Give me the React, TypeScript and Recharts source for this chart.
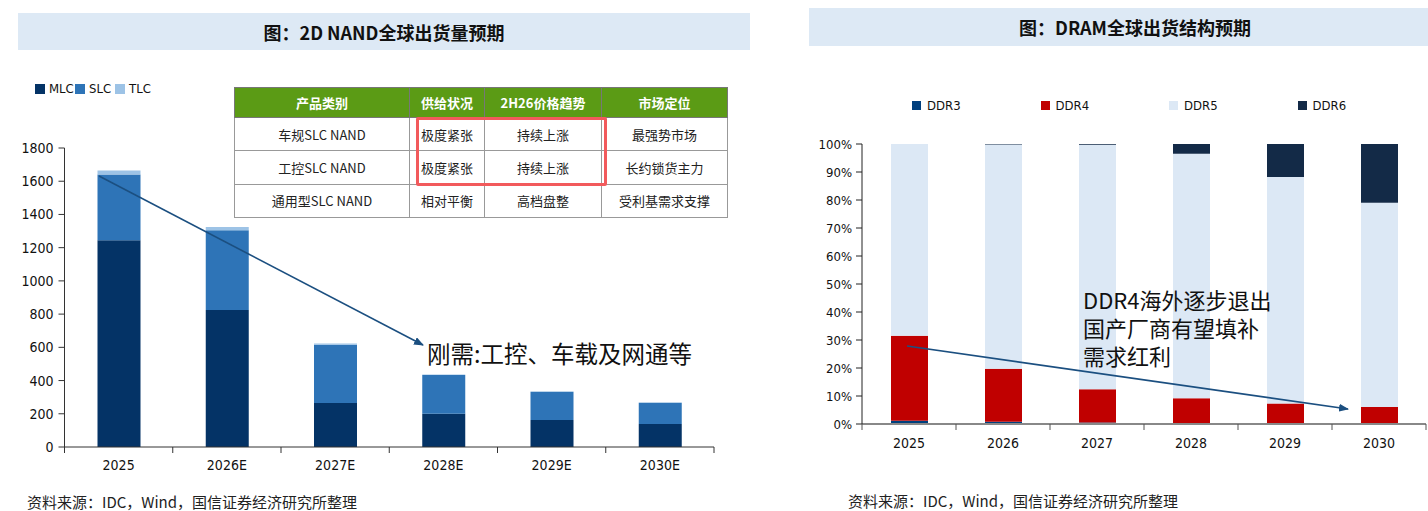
import { BarChart, Bar, XAxis, YAxis } from "recharts"

// 2D NAND shipments (left)
const nandYears = ["2025", "2026E", "2027E", "2028E", "2029E", "2030E"]
const mlc = [1245, 825, 265, 200, 162, 138]
const slc = [395, 480, 350, 234, 170, 128]
const tlc = [25, 20, 8, 3, 2, 2]
const nandTicks = [0, 200, 400, 600, 800, 1000, 1200, 1400, 1600, 1800]

// DRAM mix (right), percent
const dramYears = ["2025", "2026", "2027", "2028", "2029", "2030"]
const ddr3 = [1.2, 0.8, 0.5, 0.3, 0.1, 0]
const ddr4 = [30.3, 18.9, 11.9, 8.9, 7.2, 6.1]
const ddr5 = [68.5, 80.1, 87.3, 87.3, 80.9, 72.9]
const ddr6 = [0, 0.2, 0.3, 3.5, 11.8, 21]
const pctTicks = [0, 0.1, 0.2, 0.3, 0.4, 0.5, 0.6, 0.7, 0.8, 0.9, 1]

const tableHead = ["产品类别", "供给状况", "2H26价格趋势", "市场定位"]
const tableRows = [
    ["车规SLC NAND", "极度紧张", "持续上涨", "最强势市场"],
    ["工控SLC NAND", "极度紧张", "持续上涨", "长约锁货主力"],
    ["通用型SLC NAND", "相对平衡", "高档盘整", "受利基需求支撑"],
]

const nandSeries = [
    { key: "MLC", values: mlc, color: "#043366" },
    { key: "SLC", values: slc, color: "#2e74b7" },
    { key: "TLC", values: tlc, color: "#9dc3e6" },
]
const dramSeries = [
    { key: "DDR3", values: ddr3, color: "#003f7d" },
    { key: "DDR4", values: ddr4, color: "#c00000" },
    { key: "DDR5", values: ddr5, color: "#dce8f5" },
    { key: "DDR6", values: ddr6, color: "#132a47" },
]

const nandData = nandYears.map((year, i) => {
    const row: any = { year }
    nandSeries.forEach(s => { row[s.key] = s.values[i] })
    return row
})
const dramData = dramYears.map((year, i) => {
    const row: any = { year }
    dramSeries.forEach(s => { row[s.key] = s.values[i] })
    return row
})

const NARROW = '"Liberation Sans Narrow", "DejaVu Sans Condensed", "Arial Narrow", sans-serif'
const CJK = '"Noto Sans CJK SC", "Noto Sans", sans-serif'

// x axis tick with marks on the category borders
function BandTick(props: any) {
    const { x, y, payload, band, cats, margin, stroke, fontSize } = props
    const idx = cats.indexOf(payload.value)
    const axisY = y - margin
    const half = band / 2
    return (
        <g>
            <line x1={x - half} x2={x - half} y1={axisY} y2={axisY + 6} stroke={stroke} />
            {idx === cats.length - 1 && (
                <line x1={x + half} x2={x + half} y1={axisY} y2={axisY + 6} stroke={stroke} />
            )}
            <text x={x} y={y} dy="0.71em" textAnchor="middle" fill="#111"
                style={{ fontFamily: NARROW, fontSize }}>
                {payload.value}
            </text>
        </g>
    )
}

const L = { w: 760, h: 511, top: 148, right: 46, bottom: 34, left: 0, yw: 64.5 }
const R = { w: 628, h: 511, top: 144, right: 2, bottom: 57, left: 0, yw: 62 }
const lBand = (L.w - L.left - L.right - L.yw) / nandYears.length
const rBand = (R.w - R.left - R.right - R.yw) / dramYears.length

export default function App() {

    return (

        <div style={{ position: "absolute", left: 0, top: 0, width: 1428, height: 511, overflow: "hidden", background: "#fff" }}>

            {/* titles */}
            <div style={{
                position: "absolute", left: 18, top: 13, width: 732, height: 37, background: "#dde9f5",
                display: "flex", alignItems: "center", justifyContent: "center",
                fontFamily: CJK, fontWeight: 700, fontSize: 18, color: "#111",
            }}>
                图：2D NAND全球出货量预期
            </div>
            <div style={{
                position: "absolute", left: 809, top: 8, width: 652, height: 38, background: "#dde9f5",
                display: "flex", alignItems: "center", justifyContent: "center",
                fontFamily: CJK, fontWeight: 700, fontSize: 18, color: "#111",
            }}>
                图：DRAM全球出货结构预期
            </div>

            {/* left chart */}
            <div style={{ position: "absolute", left: 0, top: 0 }}>
                <BarChart width={L.w} height={L.h} data={nandData}
                    margin={{ top: L.top, right: L.right, bottom: L.bottom, left: L.left }}>
                    <XAxis dataKey="year" height={30} stroke="#333" tickLine={false} tickSize={0} tickMargin={13}
                        interval={0}
                        tick={(p: any) => <BandTick {...p} band={lBand} cats={nandYears} margin={13} stroke="#333" fontSize={14} />} />
                    <YAxis width={L.yw} domain={[0, 1800]} ticks={nandTicks} stroke="#333" tickSize={6} tickMargin={5}
                        tick={{ fill: "#111", fontFamily: NARROW, fontSize: 14 }} />
                    {nandSeries.map(s => (
                        <Bar key={s.key} dataKey={s.key} stackId="a" fill={s.color} barSize={43} isAnimationActive={false} />
                    ))}
                </BarChart>
            </div>

            {/* left legend */}
            {nandSeries.map((s, i) => (
                <div key={s.key} style={{ position: "absolute", left: 35 + i * 40, top: 81, display: "flex", alignItems: "center" }}>
                    <div style={{ width: 10, height: 10, background: s.color, marginRight: 4 }} />
                    <span style={{ fontFamily: NARROW, fontSize: 13, color: "#111" }}>{s.key}</span>
                </div>
            ))}

            {/* table */}
            <table style={{
                position: "absolute", left: 234, top: 87, width: 493, height: 131, borderCollapse: "collapse",
                background: "#fff", fontFamily: CJK, fontSize: 13, color: "#222", tableLayout: "fixed",
            }}>
                <colgroup>
                    <col style={{ width: 175 }} />
                    <col style={{ width: 75 }} />
                    <col style={{ width: 117 }} />
                    <col style={{ width: 126 }} />
                </colgroup>
                <thead>
                    <tr style={{ height: 30 }}>
                        {tableHead.map(h => (
                            <th key={h} style={{ background: "#5b9b15", color: "#fff", fontWeight: 700, border: "1px solid #777", padding: 0 }}>{h}</th>
                        ))}
                    </tr>
                </thead>
                <tbody>
                    {tableRows.map((r, i) => (
                        <tr key={i} style={{ height: 33 }}>
                            {r.map((c, j) => (
                                <td key={j} style={{ textAlign: "center", border: "1px solid #999", padding: 0 }}>{c}</td>
                            ))}
                        </tr>
                    ))}
                </tbody>
            </table>
            <div style={{
                position: "absolute", left: 416, top: 117, width: 185, height: 63,
                border: "3px solid #f25a5c", borderRadius: 2,
            }} />

            {/* right chart */}
            <div style={{ position: "absolute", left: 800, top: 0 }}>
                <BarChart width={R.w} height={R.h} data={dramData} stackOffset="expand"
                    margin={{ top: R.top, right: R.right, bottom: R.bottom, left: R.left }}>
                    <XAxis dataKey="year" height={30} stroke="#888" strokeWidth={2} tickLine={false} tickSize={0} tickMargin={14}
                        interval={0}
                        tick={(p: any) => <BandTick {...p} band={rBand} cats={dramYears} margin={14} stroke="#555" fontSize={14} />} />
                    <YAxis width={R.yw} domain={[0, 1]} ticks={pctTicks} stroke="#222" tickSize={6} tickMargin={4}
                        tickFormatter={(v: number) => `${Math.round(v * 100)}%`}
                        tick={{ fill: "#111", fontFamily: NARROW, fontSize: 13 }} />
                    {dramSeries.map(s => (
                        <Bar key={s.key} dataKey={s.key} stackId="a" fill={s.color} barSize={37} isAnimationActive={false} />
                    ))}
                </BarChart>
            </div>

            {/* right legend */}
            {dramSeries.map((s, i) => (
                <div key={s.key} style={{ position: "absolute", left: 912 + i * 128.5, top: 98, display: "flex", alignItems: "center" }}>
                    <div style={{ width: 9, height: 9, background: s.color, marginRight: 6 }} />
                    <span style={{ fontFamily: NARROW, fontSize: 13, color: "#111" }}>{s.key}</span>
                </div>
            ))}

            {/* arrows */}
            <svg width={1428} height={511} style={{ position: "absolute", left: 0, top: 0, pointerEvents: "none" }}>
                <defs>
                    <marker id="ah" markerWidth="10" markerHeight="8" refX="9" refY="4" orient="auto" markerUnits="userSpaceOnUse">
                        <path d="M0,0 L10,4 L0,8 Z" fill="#1b4f80" />
                    </marker>
                </defs>
                <line x1={99} y1={176} x2={423} y2={345} stroke="#1b4f80" strokeWidth={1.6} markerEnd="url(#ah)" />
                <line x1={907} y1={346} x2={1348} y2={409} stroke="#1b4f80" strokeWidth={1.6} markerEnd="url(#ah)" />
            </svg>

            {/* annotations */}
            <div style={{ position: "absolute", left: 427, top: 339, fontFamily: CJK, fontSize: 23.5, lineHeight: "28px", color: "#111", whiteSpace: "nowrap" }}>
                刚需:工控、车载及网通等
            </div>
            <div style={{ position: "absolute", left: 1083, top: 285, fontFamily: CJK, fontSize: 22, lineHeight: "28px", color: "#111", whiteSpace: "nowrap" }}>
                <div>DDR4海外逐步退出</div>
                <div>国产厂商有望填补</div>
                <div>需求红利</div>
            </div>

            {/* sources */}
            <div style={{ position: "absolute", left: 27, top: 494, fontFamily: CJK, fontSize: 15, lineHeight: "16px", color: "#222", whiteSpace: "nowrap" }}>
                资料来源：IDC，Wind，国信证券经济研究所整理
            </div>
            <div style={{ position: "absolute", left: 848, top: 490, fontFamily: CJK, fontSize: 15, color: "#222", whiteSpace: "nowrap" }}>
                资料来源：IDC，Wind，国信证券经济研究所整理
            </div>

        </div>

    )

}
